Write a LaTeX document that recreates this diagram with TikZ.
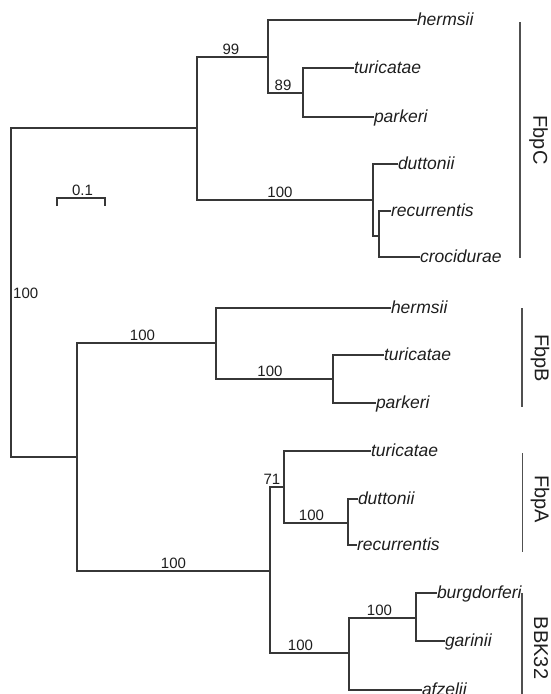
\documentclass[tikz,border=0pt]{standalone}
\usepackage{fontspec}
\setmainfont{Liberation Sans}
\definecolor{linec}{RGB}{55,55,55}
\definecolor{barc}{RGB}{80,80,80}
\definecolor{txtc}{RGB}{30,30,30}
\begin{document}
\begin{tikzpicture}[x=1pt,y=-1pt,
  br/.style={draw=linec,line width=1.1pt},
  leaf/.style={anchor=west,inner sep=0pt,outer sep=0pt,text height=11pt,text depth=0pt,
    font=\fontsize{17.5}{20}\selectfont\itshape,text=txtc},
  bs/.style={anchor=base,inner sep=0pt,font=\fontsize{15}{18}\selectfont,text=txtc},
  grp/.style={rotate=-90,inner sep=0pt,font=\fontsize{20}{24}\selectfont,text=txtc},
  grpbar/.style={draw=barc,line width=1.1pt}]
\useasboundingbox (0,0) rectangle (551,694);
% internal nodes
\coordinate (root) at (11,292);
\coordinate (C) at (197,128);
\coordinate (C1) at (268,57);
\coordinate (C2) at (303,93);
\coordinate (C3) at (373,200);
\coordinate (C4) at (379,236);
\coordinate (L) at (77,457);
\coordinate (B) at (216,343);
\coordinate (B1) at (333,379);
\coordinate (A) at (270,571);
\coordinate (A1) at (284,487);
\coordinate (A2) at (348,523);
\coordinate (K) at (349,653);
\coordinate (K1) at (416,618);
% leaves
\node[leaf] (herC) at (417,20) {hermsii};
\node[leaf] (turC) at (354,68) {turicatae};
\node[leaf] (parC) at (374,117) {parkeri};
\node[leaf] (dutC) at (398,164) {duttonii};
\node[leaf] (recC) at (391,211) {recurrentis};
\node[leaf] (croC) at (420,257) {crocidurae};
\node[leaf] (herB) at (391,308) {hermsii};
\node[leaf] (turB) at (384,355) {turicatae};
\node[leaf] (parB) at (376,403) {parkeri};
\node[leaf] (turA) at (371,451) {turicatae};
\node[leaf] (dutA) at (358,499) {duttonii};
\node[leaf] (recA) at (357,545) {recurrentis};
\node[leaf] (burK) at (437,593) {burgdorferi};
\node[leaf] (garK) at (445,641) {garinii};
\node[leaf] (afzK) at (422,690) {afzelii};
% branches
\draw[br] (root) |- (C);
\draw[br] (root) |- (L);
\draw[br] (C) |- (C1);
\draw[br] (C) |- (C3);
\draw[br] (C1) |- (herC.west);
\draw[br] (C1) |- (C2);
\draw[br] (C2) |- (turC.west);
\draw[br] (C2) |- (parC.west);
\draw[br] (C3) |- (dutC.west);
\draw[br] (C3) |- (C4);
\draw[br] (C4) |- (recC.west);
\draw[br] (C4) |- (croC.west);
\draw[br] (L) |- (B);
\draw[br] (L) |- (A);
\draw[br] (B) |- (herB.west);
\draw[br] (B) |- (B1);
\draw[br] (B1) |- (turB.west);
\draw[br] (B1) |- (parB.west);
\draw[br] (A) |- (A1);
\draw[br] (A) |- (K);
\draw[br] (A1) |- (turA.west);
\draw[br] (A1) |- (A2);
\draw[br] (A2) |- (dutA.west);
\draw[br] (A2) |- (recA.west);
\draw[br] (K) |- (K1);
\draw[br] (K) |- (afzK.west);
\draw[br] (K1) |- (burK.west);
\draw[br] (K1) |- (garK.west);
% bootstrap values
\node[bs] (b99) at (231,54) {99};
\node[bs] (b89) at (283,90.5) {89};
\node[bs] (b100c) at (280,197) {100};
\node[bs,anchor=base west] (b100r) at (13,298) {100};
\node[bs] (b100b) at (142.5,340) {100};
\node[bs] (b100b1) at (270,376) {100};
\node[bs] (b71) at (272,484) {71};
\node[bs] (b100a) at (173.5,568) {100};
\node[bs] (b100a2) at (311.5,520) {100};
\node[bs] (b100k) at (300.5,650) {100};
\node[bs] (b100k1) at (379.5,615) {100};
% scale bar
\coordinate (s1) at (57,206);
\coordinate (s2) at (105,206);
\draw[br] (s1) -- ++(0,-8) -| (s2);
\node[bs] (scl) at (82.5,195) {0.1};
% group bars and labels
\coordinate (gC1) at (520,22); \coordinate (gC2) at (520,258);
\draw[grpbar] (gC1) -- (gC2);
\node[grp] (gC) at (538.5,140) {FbpC};
\coordinate (gB1) at (522,308); \coordinate (gB2) at (522,407);
\draw[grpbar] (gB1) -- (gB2);
\node[grp] (gB) at (540,358) {FbpB};
\coordinate (gA1) at (522.5,453); \coordinate (gA2) at (522.5,552);
\draw[grpbar] (gA1) -- (gA2);
\node[grp] (gA) at (540,499) {FbpA};
\coordinate (gK1) at (522,593); \coordinate (gK2) at (522,694);
\draw[grpbar] (gK1) -- (gK2);
\node[grp] (gK) at (541,648) {BBK32};
\end{tikzpicture}
\end{document}
